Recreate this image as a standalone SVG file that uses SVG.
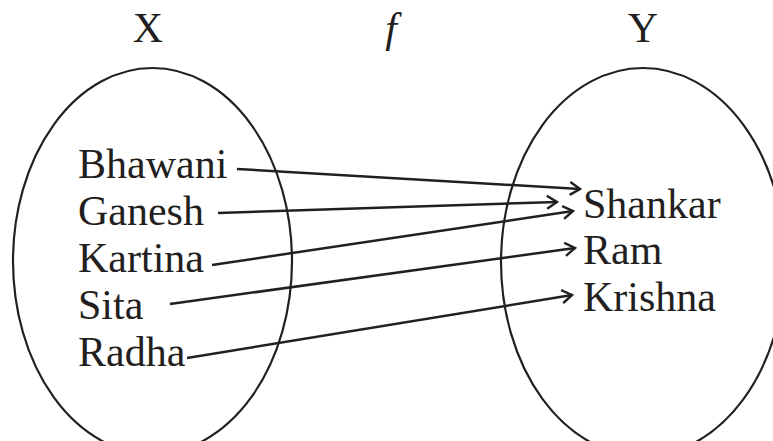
<svg xmlns="http://www.w3.org/2000/svg" width="773" height="441" viewBox="0 0 773 441">
<style>
.t{font-family:'Liberation Serif','Times New Roman',Times,serif;font-size:42px;fill:#231f20}
.set{fill:none;stroke:#231f20;stroke-width:2.2}
.c{fill:none;stroke:#231f20;stroke-width:2.5}
</style>
<defs>
<marker id="ah" markerWidth="14" markerHeight="16" refX="12" refY="8" orient="auto" markerUnits="userSpaceOnUse">
<path d="M2,1.5 L12,8 L2,14.5" fill="none" stroke="#231f20" stroke-width="2.4"/>
</marker>
</defs>
<rect width="773" height="441" fill="#fff"/>
<g id="labels">
<text class="t" x="148" y="42" text-anchor="middle">X</text>
<text class="t" x="391" y="42" text-anchor="middle" font-style="italic">f</text>
<text class="t" x="643" y="42" text-anchor="middle">Y</text>
</g>
<g id="setX">
<ellipse class="set" cx="152.5" cy="261" rx="139.5" ry="193"/>
<text class="t" x="78" y="178">Bhawani</text>
<text class="t" x="78" y="225">Ganesh</text>
<text class="t" x="78" y="272">Kartina</text>
<text class="t" x="78" y="319">Sita</text>
<text class="t" x="78" y="366">Radha</text>
</g>
<g id="setY">
<ellipse class="set" cx="643" cy="262" rx="142" ry="194"/>
<text class="t" x="583" y="218">Shankar</text>
<text class="t" x="583" y="264">Ram</text>
<text class="t" x="583" y="311">Krishna</text>
</g>
<g id="connectors">
<line class="c" x1="237" y1="169" x2="580" y2="189" marker-end="url(#ah)"/>
<line class="c" x1="218" y1="213" x2="557" y2="202" marker-end="url(#ah)"/>
<line class="c" x1="212" y1="265" x2="573" y2="211" marker-end="url(#ah)"/>
<line class="c" x1="170" y1="304" x2="575" y2="248" marker-end="url(#ah)"/>
<line class="c" x1="187" y1="358" x2="572" y2="295" marker-end="url(#ah)"/>
</g>
</svg>
